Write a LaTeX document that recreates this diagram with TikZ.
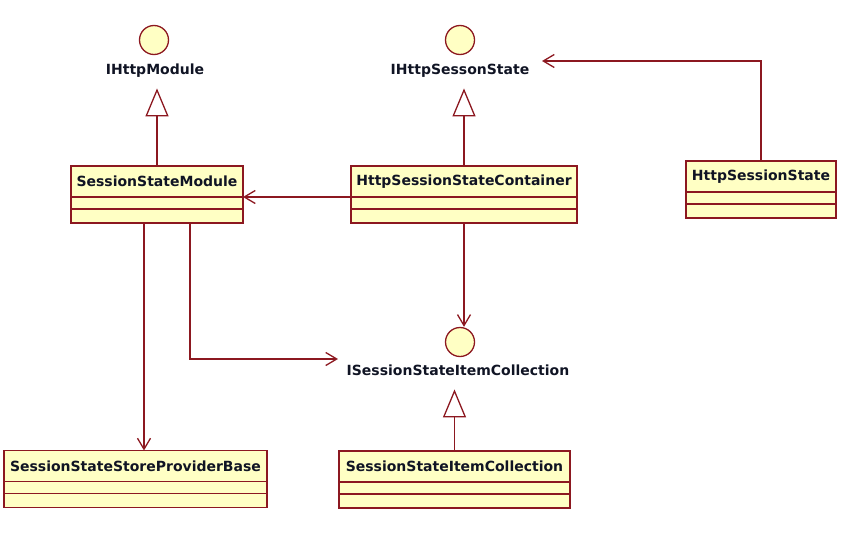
\documentclass[tikz,border=0pt]{standalone}
\usepackage{fontspec}
\setmainfont{DejaVu Sans}
\usetikzlibrary{arrows.meta,calc,positioning}
\definecolor{UmlFill}{RGB}{255,255,196}
\definecolor{UmlLine}{RGB}{140,24,32}
\definecolor{UmlText}{RGB}{16,20,36}

\begin{document}
\begin{tikzpicture}[x=1pt,y=-1pt,line width=1.3pt,
  box/.style={draw=UmlLine,fill=UmlFill,inner sep=0pt,outer sep=0pt},
  cls/.style={box,minimum height=31pt,text=UmlText,font=\bfseries\fontsize{14}{16}\selectfont},
  attr/.style={box,minimum height=12pt},
  oper/.style={box,minimum height=14pt},
  iface/.style={circle,draw=UmlLine,fill=UmlFill,inner sep=0pt,minimum size=29pt},
  ifname/.style={text=UmlText,font=\bfseries\fontsize{14}{16}\selectfont,text height=10pt,text depth=3.5pt,inner sep=0pt},
  realize/.style={draw=UmlLine,-{Triangle[open,length=28pt,width=23pt]},shorten >=10pt},
  dep/.style={draw=UmlLine,-{Straight Barb[length=11pt,width=13pt]}}]
\useasboundingbox (0,0) rectangle (846,538);

% interfaces
\node[iface] (ihm) at (154,40) {};
\node[ifname] (ihm-l) at (155,71) {IHttpModule};
\node[iface] (ihss) at (460,40) {};
\node[ifname] (ihss-l) at (460,71) {IHttpSessonState};
\node[iface] (isic) at (460,342) {};
\node[ifname] (isic-l) at (458,372) {ISessionStateItemCollection};

% classes
\node[cls,minimum width=172] (ssm) at (157,181.5) {SessionStateModule};
\node[attr,minimum width=172,below=0pt of ssm] (ssm-a) {};
\node[oper,minimum width=172,below=0pt of ssm-a] (ssm-b) {};
\node[cls,minimum width=226] (hssc) at (464,181.5) {HttpSessionStateContainer};
\node[attr,minimum width=226,below=0pt of hssc] (hssc-a) {};
\node[oper,minimum width=226,below=0pt of hssc-a] (hssc-b) {};
\node[cls,minimum width=150] (hss) at (761,176.5) {HttpSessionState};
\node[attr,minimum width=150,below=0pt of hss] (hss-a) {};
\node[oper,minimum width=150,below=0pt of hss-a] (hss-b) {};
\node[cls,minimum width=263] (sspb) at (135.5,466) {SessionStateStoreProviderBase};
\node[attr,minimum width=263,below=0pt of sspb] (sspb-a) {};
\node[oper,minimum width=263,below=0pt of sspb-a] (sspb-b) {};
\node[cls,minimum width=231] (ssic) at (454.5,466.5) {SessionStateItemCollection};
\node[attr,minimum width=231,below=0pt of ssic] (ssic-a) {};
\node[oper,minimum width=231,below=0pt of ssic-a] (ssic-b) {};

\coordinate (ihss-in) at (542,61);
\coordinate (isic-in) at (338,359);

% realizations
\draw[realize] (ssm.north) -- (ssm.north |- ihm-l.south);
\draw[realize] (hssc.north) -- (hssc.north |- ihss-l.south);
\draw[realize] (ssic.north) -- (ssic.north |- isic-l.south);

% dependencies
\draw[dep] (hssc-a.north west) -- (ssm-a.north east);
\draw[dep] (hss.north) |- (ihss-in);
\draw[dep] (hssc-b.south) -- (hssc-b.south |- isic.north);
\draw[dep] ($(ssm-b.south)+(33,0)$) |- (isic-in);
\draw[dep] ($(ssm-b.south)+(-13,0)$) coordinate (ssm-out) -- (ssm-out |- sspb.north);
\end{tikzpicture}
\end{document}
